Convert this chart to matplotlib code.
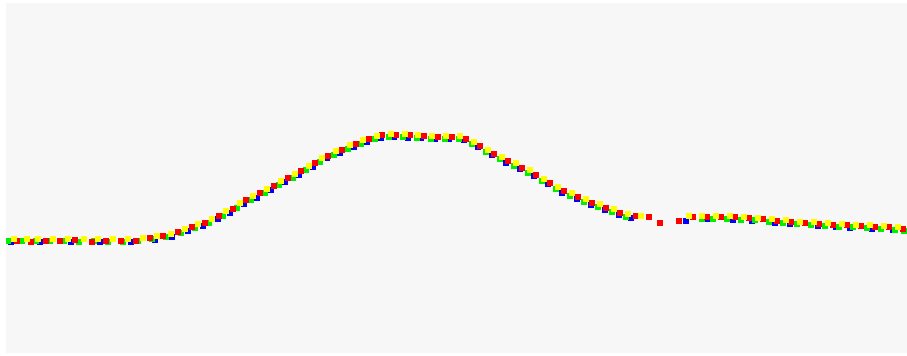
import matplotlib
matplotlib.use("Agg")
import matplotlib.pyplot as plt

# Four sensor traces sampled along the same profile
red_x = [17, 31, 46, 60, 75, 92, 106, 121, 136, 150, 163, 178, 192, 205, 219, 233, 246, 260,
         274, 288, 301, 315, 328, 342, 356, 369, 382, 396, 410, 424, 438, 452, 466, 480, 494,
         508, 522, 536, 550, 564, 578, 592, 606, 620, 636, 649, 660, 679, 693, 707, 721, 735,
         749, 763, 777, 791, 805, 819, 833, 847, 861, 875, 889, 903]
red_y = [112, 111.5, 112.5, 112, 113, 111.5, 112.5, 112, 112.5, 115, 117, 121, 126, 130.5,
         137.5, 144.5, 153, 160, 167.5, 175, 182, 190.5, 197, 203.5, 209.5, 214, 218, 218.5,
         218, 217, 216.5, 216.5, 214.5, 207, 199.5, 192, 185.5, 178, 170, 162, 156, 150.5,
         145.5, 140, 137, 136, 130.5, 132, 136, 136.5, 136.5, 136, 135, 134, 132.5, 131.5,
         130, 129.5, 128.5, 128, 127, 126.5, 126, 124.5]

yellow_x = [14, 27, 38, 53, 68, 84, 98, 113, 128, 143, 157, 171, 185, 198, 212, 226, 240, 253,
            267, 281, 295, 309, 322, 336, 350, 363, 377, 391, 405, 418, 432, 446, 460, 474,
            488, 502, 516, 530, 544, 558, 572, 586, 600, 614, 628, 641, 689, 702, 716, 730,
            744, 758, 772, 786, 800, 814, 828, 842, 856, 870, 884, 898]
yellow_y = [114.5, 114, 114.5, 114.5, 114, 114.5, 114.5, 114, 114.5, 115, 117, 119.5, 124.5,
            129, 134.5, 142, 150, 157, 164.5, 172.5, 179.5, 187.5, 195.5, 202, 208, 213.5,
            217.5, 219.5, 219, 218.5, 217.5, 217.5, 217, 211.5, 203.5, 196, 190, 183, 174.5,
            166.5, 160, 154, 149, 144, 139, 137, 137, 137.5, 137.5, 137, 136.5, 135.5, 134.5,
            133, 131.5, 131, 130, 129.5, 128.5, 128, 127, 126]

green_x = [8, 22, 36, 50, 64, 79, 94, 108, 123, 138, 152, 166, 181, 195, 209, 223, 237, 251,
           265, 279, 293, 306, 320, 334, 348, 361, 375, 389, 403, 417, 431, 445, 459, 472,
           486, 500, 514, 528, 542, 556, 570, 584, 598, 612, 626, 702, 713, 727, 741, 755,
           769, 783, 797, 811, 825, 839, 853, 867, 881, 895, 904]
green_y = [112, 112, 112.5, 112, 112, 111.5, 112, 111.5, 111.5, 112, 114, 116, 120,
           125, 130, 137, 145, 153, 160, 168.5, 175.5, 183, 191, 198, 204, 209.5, 214, 216,
           216, 215, 214.5, 214, 214, 209, 201.5, 194, 187.5, 180.5, 172.5, 164.5, 157.5,
           151.5, 146, 141, 136.5, 134.5, 134.5, 134, 133.5, 133, 131.5, 130.5, 129, 128, 127.5,
           126.5, 126, 125.5, 124.5, 123.5, 122.5]

blue_x = [11, 40, 71, 100, 131, 155, 172, 188, 203, 218, 230, 244, 257, 271, 285, 299, 313,
          327, 340, 354, 367, 381, 394, 408, 421, 435, 449, 464, 478, 492, 506, 520, 534, 548,
          562, 577, 591, 605, 619, 631, 686, 708, 733, 752, 775, 790, 818, 836, 850, 872, 893]
blue_y = [111.5, 111.5, 111.5, 111.5, 111.5, 113.5, 116.5, 122, 127, 134, 140.5, 149, 155.5,
          163.5, 171, 178, 186.5, 195.5, 200, 206, 211, 215, 216, 215, 215, 214, 214, 213, 206,
          198, 190.5, 184.5, 177, 169, 160.5, 154.5, 148.5, 143.5, 138, 135.5, 132, 134, 133.5,
          132.5, 130.5, 129, 127, 126, 125.5, 124.5, 123]

series = [
    (blue_x, blue_y, "#0000ff"),
    (green_x, green_y, "#00ee00"),
    (red_x, red_y, "#ff0000"),
    (yellow_x, yellow_y, "#ffff00"),
]

fig = plt.figure(figsize=(9.07, 3.56), dpi=100, facecolor="white")
ax = fig.add_axes([6 / 907, 3 / 356, 901 / 907, 350 / 356])
ax.set_facecolor("#f7f7f7")

for i, (xs, ys, col) in enumerate(series):
    ax.scatter(xs, ys, s=22, marker="s", color=col, linewidths=0, zorder=2 + i)

ax.set_xlim(6, 907)
ax.set_ylim(0, 350)
ax.set_xticks([])
ax.set_yticks([])
for sp in ax.spines.values():
    sp.set_visible(False)

fig.savefig("out.png", dpi=100, facecolor="white")
